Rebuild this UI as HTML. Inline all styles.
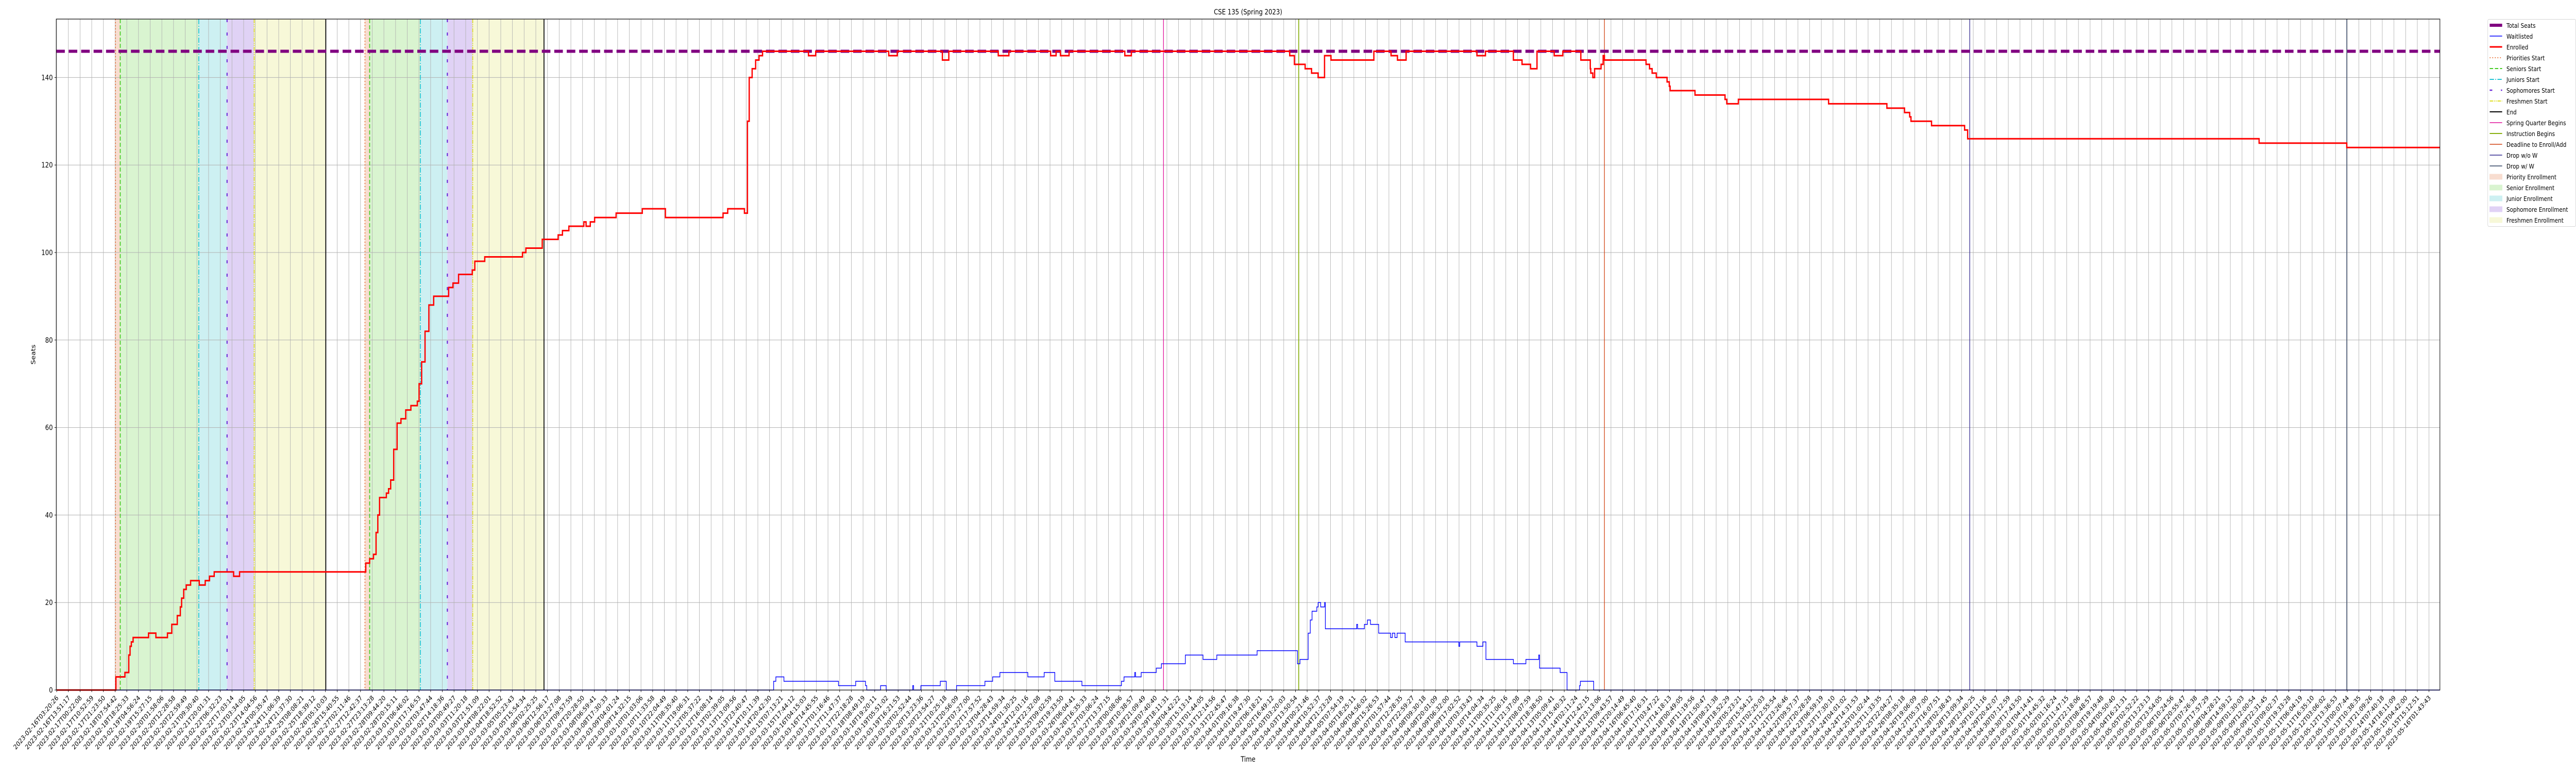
<!DOCTYPE html>
<html><head><meta charset="utf-8"><title>CSE 135 (Spring 2023)</title>
<style>
html,body{margin:0;padding:0;background:#fff;width:100%;height:100%;overflow:hidden;}
svg{display:block;width:100vw;height:100vh;font-family:"DejaVu Sans","Liberation Sans",sans-serif;overflow:hidden;}
</style></head>
<body>
<svg id="chart" xmlns="http://www.w3.org/2000/svg" viewBox="0 0 6000 1500" preserveAspectRatio="none">
<rect x="0" y="0" width="6000" height="1500" fill="#fff"/>
<text x="2907" y="28" text-anchor="middle" font-size="14">CSE 135 (Spring 2023)</text>
<text x="2907" y="1478" text-anchor="middle" font-size="14">Time</text>
<text transform="translate(82,688) rotate(-90)" text-anchor="middle" font-size="14">Seats</text>
<g id="spans"></g>
<g id="grid"></g>
<g id="events"></g>
<g id="series"></g>
<g id="axes"></g>
<g id="legend"></g>
</svg>
<script>
// ---- data (x in tick-index units, y in seats) ----
const totalSeats = 146;
const yTicks = [0, 20, 40, 60, 80, 100, 120, 140];
const tickCount = 204;
const tickStart = "2023-02-16T03:20:26Z";
const tickEnd = "2023-05-16T01:43:43Z";

const enrolledX = [0,5.07,5.84,6.17,6.28,6.39,6.54,7.86,8.49,9.48,9.85,10.32,10.58,10.69,10.87,11.09,11.46,12.20,12.71,13.08,13.48,15.14,15.65,
 26.45,26.78,27.11,27.33,27.48,27.63,28.21,28.40,28.58,28.84,29.13,29.46,29.87,30.31,30.86,31.01,31.23,31.52,31.85,32.26,33.54,33.91,34.39,35.56,35.78,36.63,
 39.86,40.15,41.55,42.91,43.28,43.83,45.11,45.30,45.66,46.03,47.87,50.11,52.09,57.02,57.42,58.85,59.11,59.26,59.51,59.81,60.10,60.40,
 64.33,64.95,71.20,71.93,75.79,76.34,80.57,81.48,85.05,85.52,85.89,86.63,91.40,91.96,
 105.51,105.91,106.83,107.38,107.94,108.49,109.04,112.71,114.18,114.73,115.47,121.53,122.26,124.65,125.39,126.12,126.67,128.14,128.88,
 130.42,131.23,131.27,131.45,131.60,132.15,132.33,132.44,136.00,136.30,136.52,136.88,137.80,137.99,138.06,140.19,142.76,142.91,143.90,151.62,
 156.61,158.12,158.56,158.67,160.43,163.26,163.52,188.46,195.96,203.92];
const enrolledY = [0,3,4,8,10,11,12,13,12,13,15,17,19,21,23,24,25,24,25,26,27,26,27,
 29,30,31,36,40,44,45,46,48,55,61,62,64,65,66,70,75,82,88,90,92,93,95,96,98,99,
 100,101,103,104,105,106,107,106,107,108,109,110,108,109,110,109,130,140,142,144,145,146,
 145,146,145,146,144,146,145,146,145,146,145,146,145,146,
 145,143,142,141,140,145,144,146,145,144,146,145,146,144,143,142,146,145,146,
 144,142,141,140,142,143,145,144,143,142,141,140,139,138,137,136,135,134,135,134,
 133,132,131,130,129,128,126,125,124,124];

const waitX = [0,61.35,61.54,62.23,66.90,68.37,69.21,69.32,70.50,70.98,73.25,73.33,73.95,75.61,76.12,77.00,79.43,80.09,80.71,83.10,84.50,85.41,87.73,
 91.11,91.33,92.25,92.32,92.80,94.09,94.53,96.58,98.09,99.27,102.72,106.17,106.39,107.09,107.27,107.42,107.83,107.94,108.16,108.49,108.56,
 111.24,111.32,111.90,112.16,112.42,113.12,114.14,114.29,114.51,114.70,115.39,119.98,120.06,121.53,122.04,122.30,124.65,125.72,126.82,126.89,
 128.65,129.24,130.31,130.38,131.52,203.92];
const waitY = [0,2,3,2,1,2,1,0,1,0,1,0,1,2,0,1,2,3,4,3,4,2,1,
 2,3,4,3,4,5,6,8,7,8,9,6,7,13,16,18,19,20,19,20,14,
 15,14,15,16,15,13,12,13,12,13,11,10,11,10,11,7,6,7,8,5,
 4,0,1,2,0,0];

const eventNames = ["Priorities Start","Seniors Start","Juniors Start","Sophomores Start","Freshmen Start","End",
 "Priorities Start","Seniors Start","Juniors Start","Sophomores Start","Freshmen Start","End",
 "Spring Quarter Begins","Instruction Begins","Deadline to Enroll/Add","Drop w/o W","Drop w/ W"];
const eventX = [5.03,5.44,12.16,14.58,16.90,23.03, 26.38,26.78,31.12,33.43,35.60,41.70, 94.71,106.28,132.44,163.70,195.96];

const spanNames = ["Priority Enrollment","Senior Enrollment","Junior Enrollment","Sophomore Enrollment","Freshmen Enrollment",
 "Priority Enrollment","Senior Enrollment","Junior Enrollment","Sophomore Enrollment","Freshmen Enrollment"];
const spanStart = [5.00,5.44,12.16,14.58,16.90, 26.35,26.78,31.12,33.43,35.60];
const spanEnd   = [5.44,12.16,14.58,16.90,23.03, 26.78,31.12,33.43,35.60,41.70];

// ---- styles ----
const evStyle = {
 "Priorities Start":{c:"#e8733a",w:2,d:"2,4"},
 "Seniors Start":{c:"#44cc22",w:2,d:"8,4"},
 "Juniors Start":{c:"#22c4d4",w:2,d:"10,3,2,3"},
 "Sophomores Start":{c:"#6a28d8",w:2.5,d:"6,20"},
 "Freshmen Start":{c:"#dede22",w:2,d:"8,2,2,2,2,2"},
 "End":{c:"#000",w:2,d:""},
 "Spring Quarter Begins":{c:"#e0109a",w:1.5,d:""},
 "Instruction Begins":{c:"#88b010",w:2,d:""},
 "Deadline to Enroll/Add":{c:"#d04010",w:1.5,d:""},
 "Drop w/o W":{c:"#302890",w:1.5,d:""},
 "Drop w/ W":{c:"#2c3e60",w:1.5,d:""}
};
const spanColor = {"Priority Enrollment":"#f8ddd0","Senior Enrollment":"#d9f4d0","Junior Enrollment":"#cdf0f2","Sophomore Enrollment":"#e0d2f5","Freshmen Enrollment":"#f7f8d8"};

const L=131, R=5683, T=37, B=1339;
function x(u){return 132 + u*27.22;}
function y(v){return 1339 - v*8.49;}
const NS="http://www.w3.org/2000/svg";
function mk(tag, attrs, parent){const e=document.createElementNS(NS,tag);for(const k in attrs)e.setAttribute(k,attrs[k]);parent.appendChild(e);return e;}

const gSpans=document.getElementById('spans'), gGrid=document.getElementById('grid'), gEv=document.getElementById('events'),
 gSer=document.getElementById('series'), gAx=document.getElementById('axes'), gLeg=document.getElementById('legend');

for(let i=0;i<spanStart.length;i++){
 const r=mk('rect',{x:x(spanStart[i]),y:T,width:x(spanEnd[i])-x(spanStart[i]),height:B-T,fill:spanColor[spanNames[i]]},gSpans);
 
 
}
function fmt(d){return d.toISOString().slice(0,19);}
const t0=Date.parse(tickStart), t1=Date.parse(tickEnd);
const tickLabels=[];
for(let i=0;i<tickCount;i++){tickLabels.push(fmt(new Date(t0+(t1-t0)*i/(tickCount-1))));}
for(let i=0;i<tickCount;i++){
 const gl=mk('line',{x1:x(i),x2:x(i),y1:T,y2:B,stroke:"#b0b0b0","stroke-width":1},gGrid);
 
 
}
for(const v of yTicks){
 const gl=mk('line',{x1:L,x2:R,y1:y(v),y2:y(v),stroke:"#b0b0b0","stroke-width":1},gGrid);
 
 
}
for(let i=0;i<eventX.length;i++){
 const s=evStyle[eventNames[i]];
 const ln=mk('line',{x1:x(eventX[i]),x2:x(eventX[i]),y1:T,y2:B,stroke:s.c,"stroke-width":s.w},gEv);
 if(s.d)ln.setAttribute('stroke-dasharray',s.d);
 
 
}
function stepPath(xs,ys){let d='M'+x(xs[0])+','+y(ys[0]);for(let i=1;i<xs.length;i++){d+='H'+x(xs[i])+'V'+y(ys[i]);}return d;}
const tl=mk('line',{x1:L,x2:R,y1:y(totalSeats),y2:y(totalSeats),stroke:"#800080","stroke-width":6,"stroke-dasharray":"20,9"},gSer);


const wp=mk('path',{d:stepPath(waitX,waitY),fill:"none",stroke:"#0000ff","stroke-width":1.5},gSer);


const ep=mk('path',{d:stepPath(enrolledX,enrolledY),fill:"none",stroke:"#ff0000","stroke-width":3},gSer);



const fr=mk('rect',{x:L,y:T,width:R-L,height:B-T,fill:"none",stroke:"#000","stroke-width":1.2},gAx);


for(const v of yTicks){
 const tk=mk('line',{x1:L-4,x2:L,y1:y(v),y2:y(v),stroke:"#000","stroke-width":1},gAx);
 
 
 const t=mk('text',{x:L-8,y:y(v)+5,"text-anchor":"end","font-size":14},gAx);
 t.textContent=String(v);
 
 
}
for(let i=0;i<tickCount;i++){
 const tk=mk('line',{x1:x(i),x2:x(i),y1:B,y2:B+4,stroke:"#000","stroke-width":1},gAx);
 
 
 const t=mk('text',{transform:'translate('+(x(i)+5)+','+(B+16)+') rotate(-45)',"text-anchor":"end","font-size":13},gAx);
 t.textContent=tickLabels[i];
 
 
}

const legItems=[
 {n:"Total Seats",k:"line",c:"#800080",w:6,d:""},
 {n:"Waitlisted",k:"line",c:"#0000ff",w:1.5,d:""},
 {n:"Enrolled",k:"line",c:"#ff0000",w:3,d:""},
 {n:"Priorities Start",k:"ev"},{n:"Seniors Start",k:"ev"},{n:"Juniors Start",k:"ev"},{n:"Sophomores Start",k:"ev"},
 {n:"Freshmen Start",k:"ev"},{n:"End",k:"ev"},{n:"Spring Quarter Begins",k:"ev"},{n:"Instruction Begins",k:"ev"},
 {n:"Deadline to Enroll/Add",k:"ev"},{n:"Drop w/o W",k:"ev"},{n:"Drop w/ W",k:"ev"},
 {n:"Priority Enrollment",k:"span"},{n:"Senior Enrollment",k:"span"},{n:"Junior Enrollment",k:"span"},{n:"Sophomore Enrollment",k:"span"},{n:"Freshmen Enrollment",k:"span"}
];
const lb=mk('rect',{x:5794.5,y:37.5,width:205,height:402,rx:3,fill:"#fff","fill-opacity":0.8,stroke:"#d6d6d6","stroke-width":1},gLeg);


legItems.forEach((it,i)=>{
 const cy=49+i*21;
 const g=mk('g',{},gLeg);
 
 
 if(it.k==="span"){
  mk('rect',{x:5799,y:cy-5,width:29,height:10,fill:spanColor[it.n],stroke:spanColor[it.n]},g);
 }else{
  const s=it.k==="ev"?evStyle[it.n]:it;
  const l=mk('line',{x1:5799,x2:5828,y1:cy,y2:cy,stroke:s.c,"stroke-width":s.w},g);
  if(s.d)l.setAttribute('stroke-dasharray',s.d);
 }
 const t=mk('text',{x:5838,y:cy+5,"font-size":12.5},g);
 t.textContent=it.n;
});
</script>
</body></html>
